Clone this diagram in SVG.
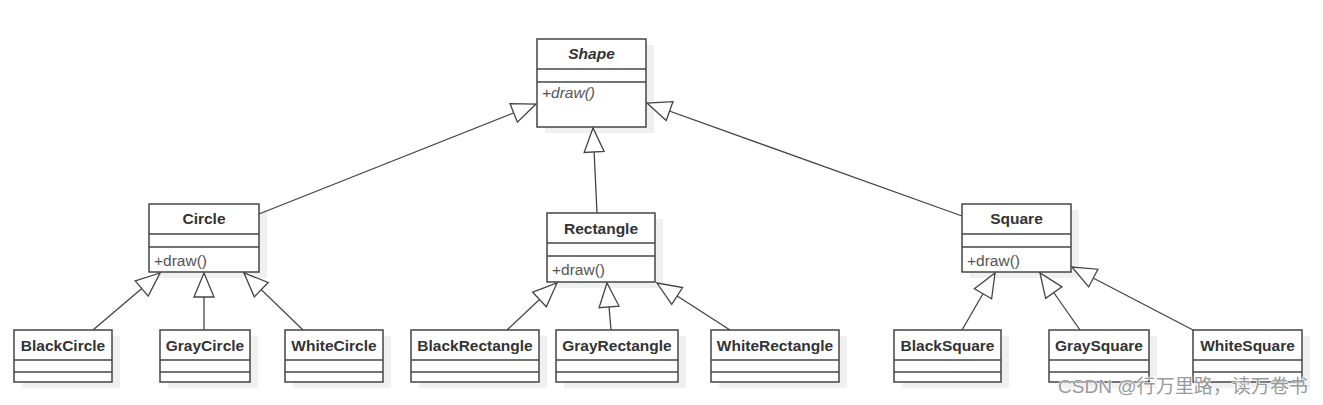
<svg xmlns="http://www.w3.org/2000/svg" width="1323" height="405" viewBox="0 0 1323 405">
<style>
.shadow{fill:#f0f0f0;stroke:none}
.box{fill:#fff;stroke:#444;stroke-width:1.5}
.sep{stroke:#444;stroke-width:1.5}
.title{font-family:"Liberation Sans",Arial,sans-serif;font-size:15.5px;font-weight:bold;fill:#333;text-anchor:middle}
.method{font-family:"Liberation Sans",Arial,sans-serif;font-size:15.5px;fill:#555}
.it{font-style:italic}
.conn line{stroke:#444;stroke-width:1.3;marker-end:url(#gen)}
.wm{font-family:"Liberation Sans","Noto Sans CJK SC",sans-serif;font-size:19px;fill:#9a9a9a;stroke:#fff;stroke-width:2;paint-order:stroke;stroke-opacity:0.7}
</style>
<defs>
<marker id="gen" viewBox="-2 -2 28 24" refX="24" refY="10" markerWidth="28" markerHeight="24" markerUnits="userSpaceOnUse" orient="auto" overflow="visible">
<path d="M0,0 L24,10 L0,20 Z" fill="#fff" stroke="#444" stroke-width="1.3" stroke-linejoin="miter"/>
</marker>
</defs>
<rect width="1323" height="405" fill="#fff"/>

<g id="Shape">
<rect class="shadow" x="545" y="45" width="109" height="88"/>
<rect class="box" x="537" y="39" width="109" height="88"/>
<line class="sep" x1="537" y1="69" x2="646" y2="69"/>
<line class="sep" x1="537" y1="82" x2="646" y2="82"/>
<text class="title it" x="591.5" y="59">Shape</text>
<text class="method it" x="542" y="98">+draw()</text>
</g>

<g id="Circle">
<rect class="shadow" x="157" y="210" width="110" height="68"/>
<rect class="box" x="149" y="204" width="110" height="68"/>
<line class="sep" x1="149" y1="234" x2="259" y2="234"/>
<line class="sep" x1="149" y1="247" x2="259" y2="247"/>
<text class="title" x="204" y="224">Circle</text>
<text class="method" x="154" y="266">+draw()</text>
</g>

<g id="Rectangle">
<rect class="shadow" x="555" y="219" width="108" height="69"/>
<rect class="box" x="547" y="213" width="108" height="69"/>
<line class="sep" x1="547" y1="243" x2="655" y2="243"/>
<line class="sep" x1="547" y1="256" x2="655" y2="256"/>
<text class="title" x="601" y="234">Rectangle</text>
<text class="method" x="552" y="275">+draw()</text>
</g>

<g id="Square">
<rect class="shadow" x="970" y="210" width="109" height="68"/>
<rect class="box" x="962" y="204" width="109" height="68"/>
<line class="sep" x1="962" y1="234" x2="1071" y2="234"/>
<line class="sep" x1="962" y1="247" x2="1071" y2="247"/>
<text class="title" x="1016.5" y="224">Square</text>
<text class="method" x="967" y="266">+draw()</text>
</g>

<g id="BlackCircle">
<rect class="shadow" x="22" y="336" width="98" height="52"/>
<rect class="box" x="14" y="330" width="98" height="52"/>
<line class="sep" x1="14" y1="360" x2="112" y2="360"/>
<line class="sep" x1="14" y1="372" x2="112" y2="372"/>
<text class="title" x="63" y="351">BlackCircle</text>
</g>

<g id="GrayCircle">
<rect class="shadow" x="168" y="336" width="90" height="52"/>
<rect class="box" x="160" y="330" width="90" height="52"/>
<line class="sep" x1="160" y1="360" x2="250" y2="360"/>
<line class="sep" x1="160" y1="372" x2="250" y2="372"/>
<text class="title" x="205" y="351">GrayCircle</text>
</g>

<g id="WhiteCircle">
<rect class="shadow" x="293" y="336" width="98" height="52"/>
<rect class="box" x="285" y="330" width="98" height="52"/>
<line class="sep" x1="285" y1="360" x2="383" y2="360"/>
<line class="sep" x1="285" y1="372" x2="383" y2="372"/>
<text class="title" x="334" y="351">WhiteCircle</text>
</g>

<g id="BlackRectangle">
<rect class="shadow" x="419" y="336" width="128" height="52"/>
<rect class="box" x="411" y="330" width="128" height="52"/>
<line class="sep" x1="411" y1="360" x2="539" y2="360"/>
<line class="sep" x1="411" y1="372" x2="539" y2="372"/>
<text class="title" x="475" y="351">BlackRectangle</text>
</g>

<g id="GrayRectangle">
<rect class="shadow" x="564" y="336" width="122" height="52"/>
<rect class="box" x="556" y="330" width="122" height="52"/>
<line class="sep" x1="556" y1="360" x2="678" y2="360"/>
<line class="sep" x1="556" y1="372" x2="678" y2="372"/>
<text class="title" x="617" y="351">GrayRectangle</text>
</g>

<g id="WhiteRectangle">
<rect class="shadow" x="719" y="336" width="128" height="52"/>
<rect class="box" x="711" y="330" width="128" height="52"/>
<line class="sep" x1="711" y1="360" x2="839" y2="360"/>
<line class="sep" x1="711" y1="372" x2="839" y2="372"/>
<text class="title" x="775" y="351">WhiteRectangle</text>
</g>

<g id="BlackSquare">
<rect class="shadow" x="902" y="336" width="107" height="52"/>
<rect class="box" x="894" y="330" width="107" height="52"/>
<line class="sep" x1="894" y1="360" x2="1001" y2="360"/>
<line class="sep" x1="894" y1="372" x2="1001" y2="372"/>
<text class="title" x="947.5" y="351">BlackSquare</text>
</g>

<g id="GraySquare">
<rect class="shadow" x="1057" y="336" width="100" height="52"/>
<rect class="box" x="1049" y="330" width="100" height="52"/>
<line class="sep" x1="1049" y1="360" x2="1149" y2="360"/>
<line class="sep" x1="1049" y1="372" x2="1149" y2="372"/>
<text class="title" x="1099" y="351">GraySquare</text>
</g>

<g id="WhiteSquare">
<rect class="shadow" x="1201" y="336" width="109" height="52"/>
<rect class="box" x="1193" y="330" width="109" height="52"/>
<line class="sep" x1="1193" y1="360" x2="1302" y2="360"/>
<line class="sep" x1="1193" y1="372" x2="1302" y2="372"/>
<text class="title" x="1247.5" y="351">WhiteSquare</text>
</g>

<g id="connectors" class="conn">
<line x1="259" y1="214" x2="536" y2="104"/>
<line x1="597" y1="213" x2="593" y2="128"/>
<line x1="962" y1="216" x2="647" y2="103"/>
<line x1="93" y1="330" x2="160" y2="273"/>
<line x1="204" y1="330" x2="204" y2="273"/>
<line x1="303" y1="330" x2="244" y2="273"/>
<line x1="507" y1="330" x2="557" y2="283"/>
<line x1="611" y1="330" x2="607" y2="283"/>
<line x1="730" y1="330" x2="657" y2="283"/>
<line x1="962" y1="330" x2="995" y2="273"/>
<line x1="1080" y1="330" x2="1040" y2="273"/>
<line x1="1193" y1="330" x2="1072" y2="267"/>
</g>

<text class="wm" x="1058" y="393" textLength="250" lengthAdjust="spacingAndGlyphs">CSDN @行万里路，读万卷书</text>
</svg>
